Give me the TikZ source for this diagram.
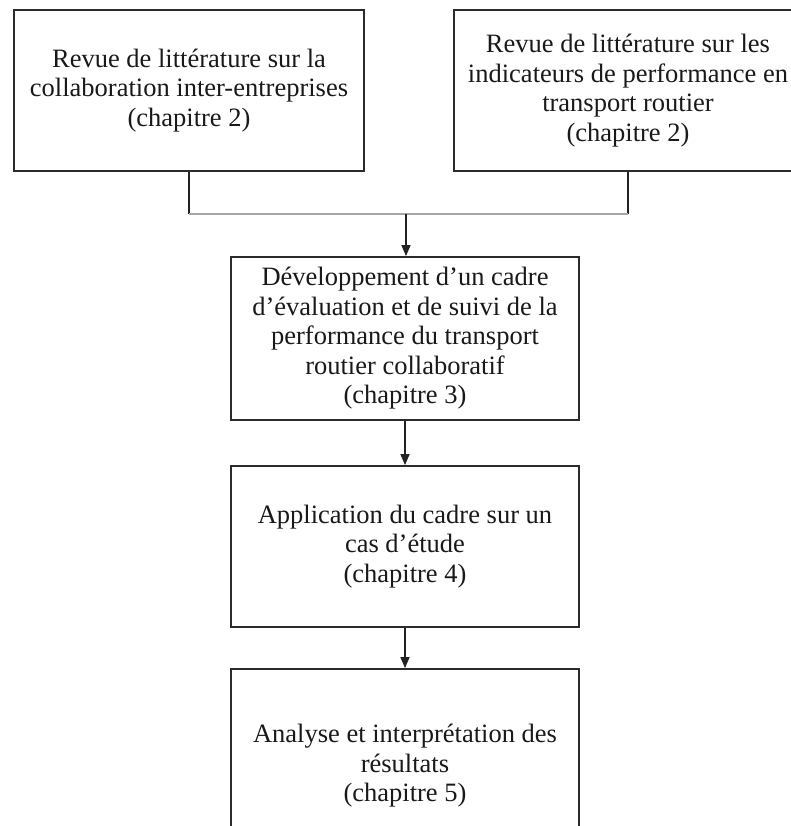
\documentclass[tikz,border=0pt]{standalone}
\usepackage{fontspec}
\setmainfont{Liberation Serif}
\usetikzlibrary{arrows.meta}
\definecolor{boxline}{HTML}{2B2B2B}
\definecolor{linkc}{HTML}{222222}
\begin{document}
\begin{tikzpicture}[x=1pt,y=-1pt,
  box/.style={draw=boxline,line width=1.8pt,align=center,inner sep=0pt,
    font=\fontsize{26.5}{29.5}\selectfont,text=black!90},
  link/.style={draw=linkc,line width=1.3pt},
  arr/.style={link,-{Triangle[length=11pt,width=9pt]}}]
\useasboundingbox (0,0) rectangle (791,826);
\clip (0,0) rectangle (791,826);
\fill[white] (0,0) rectangle (791,826);

\node[box,minimum width=350,minimum height=161] (b1) at (189,90.5)
  {Revue de littérature sur la\\collaboration inter-entreprises\\(chapitre 2)};
\node[box,minimum width=348,minimum height=161] (b2) at (628,90.5)
  {Revue de littérature sur les\\indicateurs de performance en\\transport routier\\(chapitre 2)};
\node[box,minimum width=348,minimum height=163] (c) at (405,338.5)
  {Développement d’un cadre\\d’évaluation et de suivi de la\\performance du transport\\routier collaboratif\\(chapitre 3)};
\node[box,minimum width=348,minimum height=161] (d) at (405,546.5)
  {Application du cadre sur un\\cas d’étude\\(chapitre 4)};
\node[box,minimum width=348,minimum height=194] (e) at (405,766)
  {Analyse et interprétation des\\résultats\\(chapitre 5)};

\coordinate (j) at (406,214);
\draw[link] (b1.south) -- (b1.south |- j);
\draw[link] (b2.south) -- (b2.south |- j);
\draw[link,draw=gray!70] (b1.south |- j) -- (b2.south |- j);
\draw[arr] (j) -- (j |- c.north);
\draw[arr] (c.south) -- (d.north);
\draw[arr] (d.south) -- (e.north);
\end{tikzpicture}
\end{document}
